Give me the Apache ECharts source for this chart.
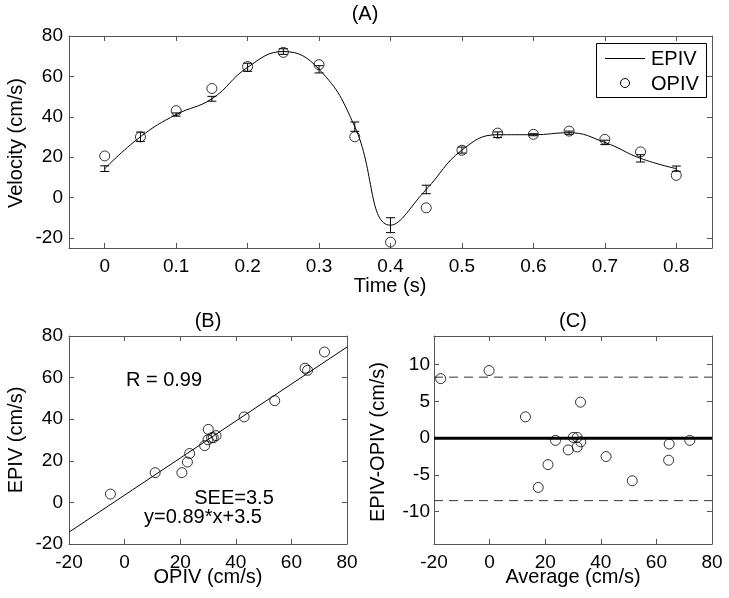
<!DOCTYPE html>
<html>
<head>
<meta charset="utf-8">
<script src="https://cdn.jsdelivr.net/npm/echarts@6/dist/echarts.min.js"></script>
<style>html,body{margin:0;padding:0;background:#fff;}#c{width:729px;height:598px;}</style>
</head>
<body>
<div id="c"></div>
<script>
// ---- Data ----
var time = [0, 0.05, 0.1, 0.15, 0.2, 0.25, 0.3, 0.35, 0.4, 0.45, 0.5, 0.55, 0.6, 0.65, 0.7, 0.75, 0.8];
var epiv = [14.3, 30.1, 41.1, 48.9, 64.5, 72.3, 63.5, 35.1, -13.7, 4.0, 23.5, 31.1, 31.1, 32.1, 27.3, 19.4, 14.3];
var epivErr = [1.4, 2.3, 0.8, 1.2, 2.0, 1.4, 1.8, 2.3, 3.7, 2.1, 1.5, 1.4, 0.5, 0.8, 1.1, 1.8, 1.3];
var opiv = [20.6, 30.0, 43.0, 54.0, 64.9, 71.9, 65.8, 30.1, -22.1, -5.1, 23.4, 31.9, 31.3, 32.9, 28.8, 22.6, 11.0];

var timeTicks = [0, 0.1, 0.2, 0.3, 0.4, 0.5, 0.6, 0.7, 0.8];
var velTicks = [-20, 0, 20, 40, 60, 80];
var diffTicks = [-10, -5, 0, 5, 10];

var fitSlope = 0.89, fitIntercept = 3.5;
var fitRange = [-20, 80];

var baAverage = [-17.6, -0.2, 12.9, 23.7, 21.0, 17.5, 28.3, 30.1, 31.5, 31.5, 32.8, 32.7, 41.9, 51.3, 64.6, 64.4, 72.0];
var baDiff    = [8.1, 9.2, 2.9, -0.3, -3.6, -6.7, -1.6, 0.1, 0.1, -1.2, -0.5, 4.9, -2.5, -5.8, -0.8, -3.0, -0.3];
var loaUpper = 8.3, loaLower = -8.5;

var legendNames = ['EPIV', 'OPIV'];

// ---- Chart ----
var FONT = 'Liberation Sans, Arial, Helvetica, sans-serif';
var AXC = '#555';
var chart = echarts.init(document.getElementById('c'));

function xAx(grid, min, max, ticks, pos, show) {
  return {
    type: 'value', gridIndex: grid, min: min, max: max, position: pos,
    splitLine: {show: false},
    axisLine: {show: true, onZero: false, lineStyle: {color: AXC, width: 1}},
    axisTick: {show: true, inside: true, length: 5, customValues: ticks, lineStyle: {color: AXC}},
    axisLabel: {show: show, customValues: ticks, color: '#000', fontSize: 19, fontFamily: FONT, margin: 9}
  };
}
function yAx(grid, min, max, ticks, pos, show, margin) {
  return {
    type: 'value', gridIndex: grid, min: min, max: max, position: pos,
    splitLine: {show: false},
    axisLine: {show: true, onZero: false, lineStyle: {color: AXC, width: 1}},
    axisTick: {show: true, inside: true, length: 5, customValues: ticks, lineStyle: {color: AXC}},
    axisLabel: {show: show, customValues: ticks, color: '#000', fontSize: 19, fontFamily: FONT, margin: margin}
  };
}

var circleStyle = {color: 'rgba(0,0,0,0)', borderColor: '#000', borderWidth: 1};
function txt(x, y, s, rot, align) {
  var o = {type: 'text', x: x, y: y, style: {text: s, font: '20px ' + FONT, fill: '#000', textAlign: align || 'center', textVerticalAlign: 'middle'}, z: 10};
  if (rot) o.rotation = rot;
  return o;
}

var option = {
  animation: false,
  backgroundColor: '#fff',
  grid: [
    {left: 69, top: 36, width: 643, height: 212},
    {left: 69, top: 336, width: 278, height: 208},
    {left: 434, top: 336, width: 278, height: 208}
  ],
  xAxis: [
    xAx(0, -0.05, 0.85, timeTicks, 'bottom', true),
    xAx(0, -0.05, 0.85, timeTicks, 'top', false),
    xAx(1, -20, 80, velTicks, 'bottom', true),
    xAx(1, -20, 80, velTicks, 'top', false),
    xAx(2, -20, 80, velTicks, 'bottom', true),
    xAx(2, -20, 80, velTicks, 'top', false)
  ],
  yAxis: [
    yAx(0, -25, 80, velTicks, 'left', true, 6),
    yAx(0, -25, 80, velTicks, 'right', false, 6),
    yAx(1, -20, 80, velTicks, 'left', true, 6),
    yAx(1, -20, 80, velTicks, 'right', false, 6),
    yAx(2, -14.4, 13.9, diffTicks, 'left', true, 4),
    yAx(2, -14.4, 13.9, diffTicks, 'right', false, 4)
  ],
  series: [
    {
      name: 'EPIV', type: 'line', xAxisIndex: 0, yAxisIndex: 0,
      data: time.map(function (t, i) { return [t, epiv[i]]; }),
      smooth: 0.45, symbol: 'none', lineStyle: {color: '#000', width: 1}, itemStyle: {color: '#000'}, z: 2
    },
    {
      name: 'EPIV err', type: 'custom', xAxisIndex: 0, yAxisIndex: 0,
      data: time.map(function (t, i) { return [t, epiv[i] - epivErr[i], epiv[i] + epivErr[i]]; }),
      renderItem: function (params, api) {
        var lo = api.coord([api.value(0), api.value(1)]);
        var hi = api.coord([api.value(0), api.value(2)]);
        var w = 4.5;
        var st = {stroke: '#000', lineWidth: 1};
        return {type: 'group', children: [
          {type: 'line', shape: {x1: lo[0], y1: lo[1], x2: hi[0], y2: hi[1]}, style: st},
          {type: 'line', shape: {x1: lo[0] - w, y1: lo[1], x2: lo[0] + w, y2: lo[1]}, style: st},
          {type: 'line', shape: {x1: hi[0] - w, y1: hi[1], x2: hi[0] + w, y2: hi[1]}, style: st}
        ]};
      }, z: 3
    },
    {
      name: 'OPIV', type: 'scatter', xAxisIndex: 0, yAxisIndex: 0,
      data: time.map(function (t, i) { return [t, opiv[i]]; }),
      symbol: 'circle', symbolSize: 10, itemStyle: circleStyle, z: 4
    },
    {
      name: 'fit', type: 'line', xAxisIndex: 2, yAxisIndex: 2,
      data: fitRange.map(function (x) { return [x, fitSlope * x + fitIntercept]; }),
      symbol: 'none', lineStyle: {color: '#000', width: 1}, clip: true
    },
    {
      name: 'B pts', type: 'scatter', xAxisIndex: 2, yAxisIndex: 2, clip: true,
      data: opiv.map(function (o, i) { return [o, epiv[i]]; }).filter(function (p) { return p[0] >= -20 && p[0] <= 80; }),
      symbol: 'circle', symbolSize: 10, itemStyle: circleStyle
    },
    {
      name: 'zero', type: 'line', xAxisIndex: 4, yAxisIndex: 4,
      data: [[-20, 0], [80, 0]], symbol: 'none', lineStyle: {color: '#000', width: 3}
    },
    {
      name: 'upper', type: 'line', xAxisIndex: 4, yAxisIndex: 4,
      data: [[-20, loaUpper], [80, loaUpper]], symbol: 'none', lineStyle: {color: '#333', width: 1, type: [9, 6]}
    },
    {
      name: 'lower', type: 'line', xAxisIndex: 4, yAxisIndex: 4,
      data: [[-20, loaLower], [80, loaLower]], symbol: 'none', lineStyle: {color: '#333', width: 1, type: [9, 6]}
    },
    {
      name: 'C pts', type: 'scatter', xAxisIndex: 4, yAxisIndex: 4, clip: true,
      data: baAverage.map(function (a, i) { return [a, baDiff[i]]; }),
      symbol: 'circle', symbolSize: 10, itemStyle: circleStyle, z: 4
    }
  ],
  graphic: [
    // legend box (panel A)
    {type: 'rect', shape: {x: 596.5, y: 43.5, width: 110, height: 54}, style: {fill: '#fff', stroke: '#000', lineWidth: 1}, z: 9},
    {type: 'line', shape: {x1: 605, y1: 58.5, x2: 645, y2: 58.5}, style: {stroke: '#000', lineWidth: 1}, z: 10},
    {type: 'circle', shape: {cx: 625, cy: 83, r: 4.5}, style: {fill: 'none', stroke: '#000', lineWidth: 1}, z: 10},
    txt(651, 59, legendNames[0], 0, 'left'),
    txt(651, 84, legendNames[1], 0, 'left'),
    // titles and axis names
    txt(365, 14, '(A)'),
    txt(390, 286, 'Time (s)'),
    txt(16, 143, 'Velocity (cm/s)', Math.PI / 2),
    txt(208, 321, '(B)'),
    txt(208, 577, 'OPIV (cm/s)'),
    txt(16, 440, 'EPIV (cm/s)', Math.PI / 2),
    txt(164, 380, 'R = 0.99'),
    txt(234, 498, 'SEE=3.5'),
    txt(203, 517, 'y=0.89*x+3.5'),
    txt(573, 321, '(C)'),
    txt(573, 577, 'Average (cm/s)'),
    txt(378, 442, 'EPIV-OPIV (cm/s)', Math.PI / 2)
  ]
};
chart.setOption(option);
</script>
</body>
</html>
